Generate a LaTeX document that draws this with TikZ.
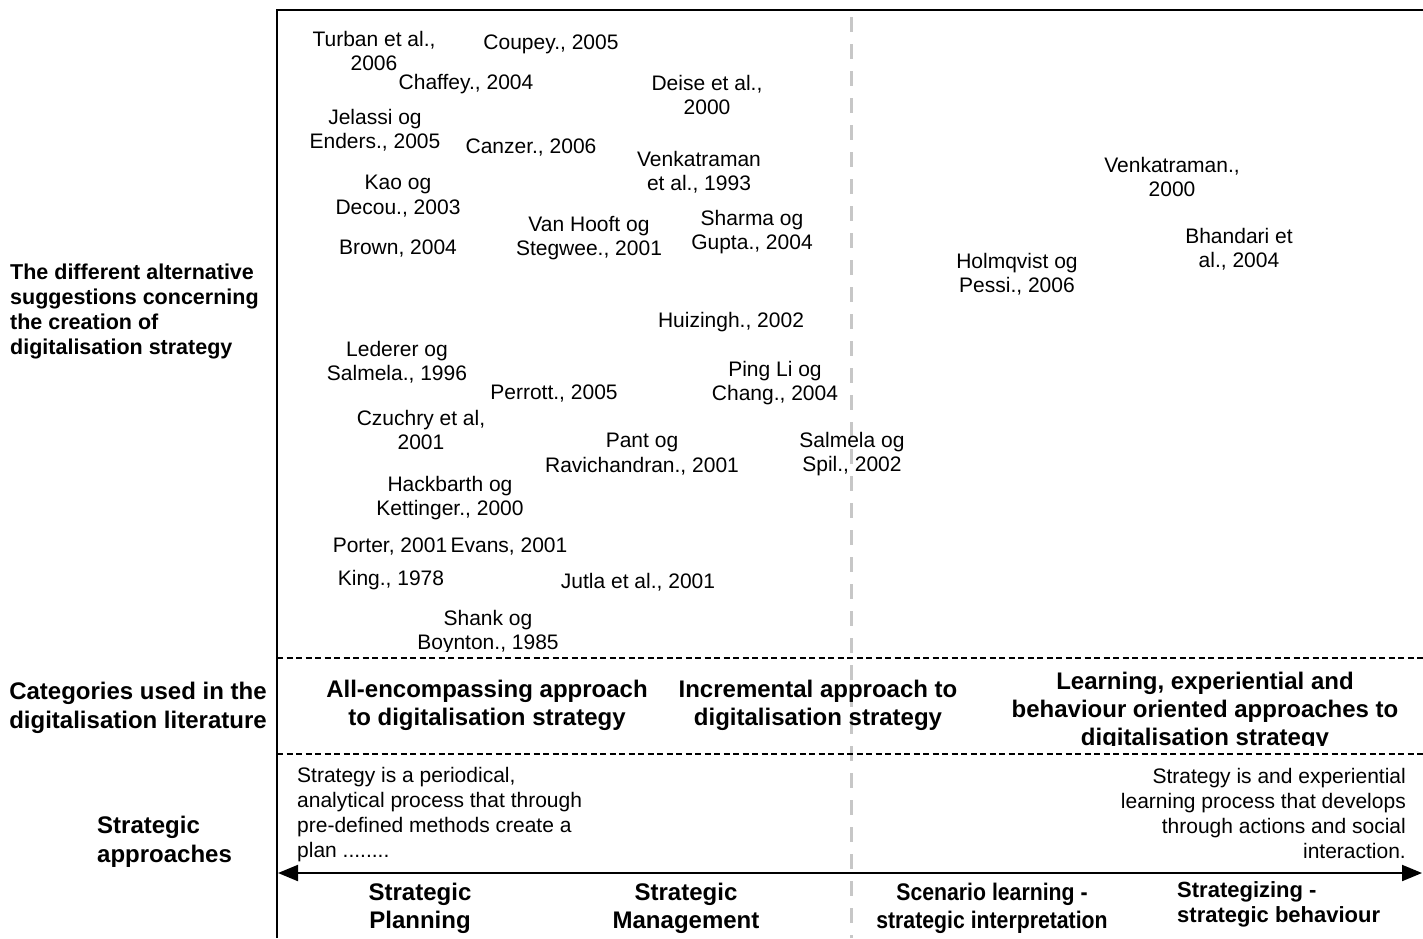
\documentclass[tikz,border=0pt]{standalone}
\usepackage{fontspec}
\setmainfont{Liberation Sans}
\usetikzlibrary{arrows.meta}

\begin{document}
\begin{tikzpicture}[x=1pt,y=-1pt,
  cite/.style={align=center, inner sep=0pt, font=\fontsize{21}{24.5}\selectfont},
  rowhead/.style={inner sep=0pt, font=\bfseries\fontsize{24}{28.5}\selectfont},
  sidehead/.style={align=left, inner sep=0pt, font=\bfseries\fontsize{21.5}{25}\selectfont},
  category/.style={align=center, inner sep=0pt, font=\bfseries\fontsize{24}{28}\selectfont},
  approach/.style={align=center, inner sep=0pt, font=\bfseries\fontsize{24}{28}\selectfont},
  descr/.style={inner sep=0pt, font=\fontsize{21}{25}\selectfont},
  frame/.style={line width=2pt, black},
  rowsep/.style={line width=1.6pt, dash pattern=on 6pt off 3.5pt},
  divider/.style={line width=3pt, black!22, dash pattern=on 15pt off 12pt},
  scale arrow/.style={line width=2pt, {Triangle[length=20pt,width=16pt]}-{Triangle[length=20pt,width=16pt]}}]

\useasboundingbox (0,0) rectangle (1423,938);

% the grey divider between the two halves of the scale
\draw[divider] (851.5,17) -- (851.5,938);

% frame and row separators
\draw[frame] (1423,10) -- (277,10) -- (277,938);
\draw[rowsep] (277,658) -- (1423,658);
\draw[rowsep] (277,754) -- (1423,754);

% side headings
\node[sidehead, anchor=west] (hSugg) at (10,311)
  {The different alternative\\suggestions concerning\\the creation of\\digitalisation strategy};
\node[rowhead, align=center] (hCat) at (138,708)
  {Categories used in the\\digitalisation literature};
\node[rowhead, align=left, anchor=west] (hAppr) at (97,842)
  {Strategic\\approaches};

% references in the upper field
\begin{scope}
\clip (278,11) rectangle (1423,651);
\node[cite] (turban)   at (374,51)   {Turban et al.,\\2006};
\node[cite] (coupey)   at (551,44)   {Coupey., 2005};
\node[cite] (chaffey)  at (466,84)   {Chaffey., 2004};
\node[cite] (deise)    at (707,95)   {Deise et al.,\\2000};
\node[cite] (jelassi)  at (375,130)  {Jelassi og\\Enders., 2005};
\node[cite] (canzer)   at (531,148)  {Canzer., 2006};
\node[cite] (venk93)   at (699,172)  {Venkatraman\\et al., 1993};
\node[cite] (kao)      at (398,196)  {Kao og\\Decou., 2003};
\node[cite] (vanhooft) at (589,238)  {Van Hooft og\\Stegwee., 2001};
\node[cite] (sharma)   at (752,232)  {Sharma og\\Gupta., 2004};
\node[cite] (brown)    at (398,249)  {Brown, 2004};
\node[cite] (huizingh) at (731,322)  {Huizingh., 2002};
\node[cite] (lederer)  at (397,362)  {Lederer og\\Salmela., 1996};
\node[cite] (pingli)   at (775,383)  {Ping Li og\\Chang., 2004};
\node[cite] (perrott)  at (554,394)  {Perrott., 2005};
\node[cite] (czuchry)  at (421,430)  {Czuchry et al,\\2001};
\node[cite] (pant)     at (642,454)  {Pant og\\Ravichandran., 2001};
\node[cite] (salspil)  at (852,454)  {Salmela og\\Spil., 2002};
\node[cite] (hackb)    at (450,498)  {Hackbarth og\\Kettinger., 2000};
\node[cite] (porter)   at (390,546)  {Porter, 2001};
\node[cite] (evans)    at (509,546)  {Evans, 2001};
\node[cite] (king)     at (391,580)  {King., 1978};
\node[cite] (jutla)    at (638,582)  {Jutla et al., 2001};
\node[cite] (shank)    at (488,632)  {Shank og\\Boynton., 1985};
\node[cite] (venk00)   at (1172,177) {Venkatraman.,\\2000};
\node[cite] (bhandari) at (1239,249) {Bhandari et\\al., 2004};
\node[cite] (holmq)    at (1017,274) {Holmqvist og\\Pessi., 2006};
\end{scope}

% categories of the literature
\begin{scope}
\clip (278,659) rectangle (1423,745);
\node[category] (catAll)   at (487,705)  {All-encompassing approach\\to digitalisation strategy};
\node[category] (catIncr)  at (818,705)  {Incremental approach to\\digitalisation strategy};
\node[category] (catLearn) at (1205,711) {Learning, experiential and\\behaviour oriented approaches to\\digitalisation strategy};
\end{scope}

% the two ends of the scale
\node[descr, align=left, anchor=west] (dPlan) at (297,815)
  {Strategy is a periodical,\\analytical process that through\\pre-defined methods create a\\plan ........};
\node[descr, align=right, anchor=east] (dLearn) at (1406,813)
  {Strategy is and experiential\\learning process that develops\\through actions and social\\interaction.};

% scale of strategic approaches
\coordinate (scaleL) at (278,873);
\coordinate (scaleR) at (1422,873);
\draw[scale arrow] (scaleL) -- (scaleR);

\node[approach] (aPlan)  at (420,908) {Strategic\\Planning};
\node[approach] (aMan)   at (686,908) {Strategic\\Management};
\node[approach, xscale=0.885, transform shape] (aScen) at (992,908)
  {Scenario learning -\\strategic interpretation};
\node[approach, align=left, anchor=west, font=\bfseries\fontsize{22}{25}\selectfont]
  (aBeh) at (1177,904) {Strategizing -\\strategic behaviour};

\end{tikzpicture}
\end{document}
